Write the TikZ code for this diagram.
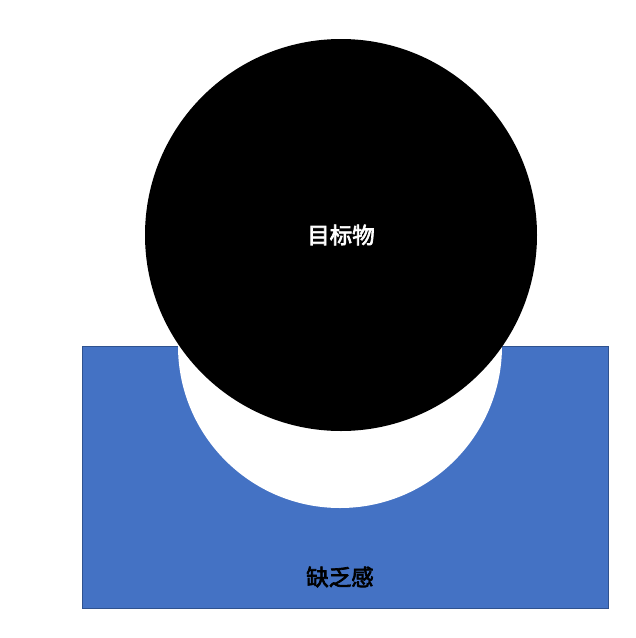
\documentclass[tikz,border=0pt]{standalone}
\usepackage{fontspec}
\newfontfamily\cjk[FakeBold=3]{Noto Sans CJK SC}
\usepackage{tikz}
\usetikzlibrary{positioning}

\definecolor{lackblue}{RGB}{68,114,196}
\definecolor{lackedge}{RGB}{47,82,143}

\begin{document}
\begin{tikzpicture}[x=1pt,y=-1pt,
	every node/.style={inner sep=0pt,outer sep=0pt},
	lack box/.style={draw=lackedge,line width=0.8pt,fill=lackblue,minimum width=526pt,minimum height=262pt},
	gap disc/.style={circle,fill=white,minimum size=324pt},
	target disc/.style={circle,fill=black,minimum size=392pt,text=white,font=\cjk\fontsize{22.5pt}{26pt}\selectfont},
	lack label/.style={text=black,font=\cjk\fontsize{22.5pt}{26pt}\selectfont}]
	\useasboundingbox[fill=white] (0,0) rectangle (636,638);
	
	\node[lack box] (lack) at (345,477) {};
	\node[gap disc] (gap) at (340,346) {};
	\node[target disc] (target) at (341,235) {目标物};
	\node[lack label] (lack text) at (340,577) {缺乏感};
	
\end{tikzpicture}
\end{document}
